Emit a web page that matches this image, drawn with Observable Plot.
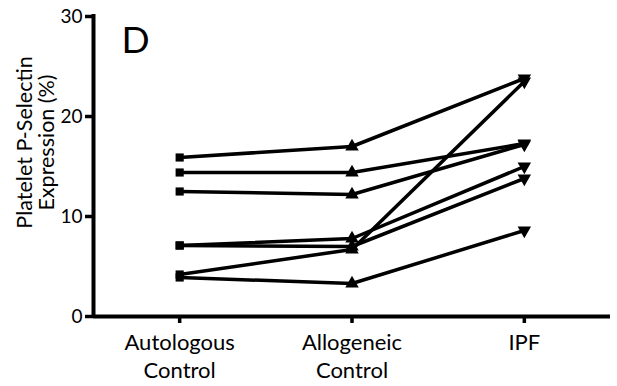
<!DOCTYPE html>
<html>
<head>
<meta charset="utf-8">
<script src="https://cdn.jsdelivr.net/npm/d3@7"></script>
<script src="https://cdn.jsdelivr.net/npm/@observablehq/plot@0.6"></script>
<style>
  html, body { margin: 0; padding: 0; background: #fff; }
  #chart svg { display: block; }
</style>
</head>
<body>
<div id="chart"></div>
<script>
// Data
const groups = ["Autologous\nControl", "Allogeneic\nControl", "IPF"];
const autologous = [15.9, 14.4, 12.5, 7.1, 7.1, 4.2, 3.9];
const allogeneic = [17.0, 14.4, 12.2, 7.8, 7.0, 6.7, 3.3];
const ipf        = [23.8, 17.3, 17.2, 15.0, 13.8, 23.5, 8.6];
const yTicks = [0, 10, 20, 30];
const panelLetter = "D";
const yLabel = "Platelet P-Selectin\nExpression (%)";

const series = [autologous, allogeneic, ipf];
const rows = [];
autologous.forEach((_, s) => {
  series.forEach((vals, g) => rows.push({subject: s, g, value: vals[s]}));
});

const downTriangle = {
  draw(context, size) {
    const y = -Math.sqrt(size / (3 * Math.sqrt(3)));
    context.moveTo(0, -y * 2);
    context.lineTo(-Math.sqrt(3) * y, y);
    context.lineTo(Math.sqrt(3) * y, y);
    context.closePath();
  }
};
const symbols = [d3.symbolSquare, d3.symbolTriangle, downTriangle];

const chart = Plot.plot({
  width: 617,
  height: 386,
  marginLeft: 93,
  marginRight: 7,
  marginTop: 16,
  marginBottom: 70,
  style: {fontFamily: "Lato, 'Open Sans', sans-serif", background: "#fff", color: "#000"},
  x: {domain: [-0.5, 2.5], axis: null},
  y: {domain: [0, 30], axis: null},
  marks: [
    Plot.axisY({ticks: yTicks, tickSize: 8, tickPadding: 3, fontSize: 19, label: null, strokeWidth: 3.5}),
    Plot.axisX({ticks: [0, 1, 2], tickFormat: i => groups[i], tickSize: 7, tickPadding: 6, fontSize: 22, lineHeight: 1.28, label: null, strokeWidth: 3.5}),
    Plot.ruleY([0], {stroke: "#000", strokeWidth: 4}),
    Plot.ruleX([-0.5], {y1: -0.2, y2: 30.2, stroke: "#000", strokeWidth: 4}),
    Plot.line(rows, {x: "g", y: "value", z: "subject", stroke: "#000", strokeWidth: 3.5}),
    ...symbols.map((sym, g) =>
      Plot.dot(rows.filter(d => d.g === g), {x: "g", y: "value", symbol: () => sym, r: g === 0 ? 4.6 : 5, fill: "#000", stroke: "none"})
    ),
    Plot.text([panelLetter], {frameAnchor: "top-left", dx: 28, dy: 10, fontSize: 37, textAnchor: "start", lineAnchor: "top", fill: "#000"}),
    Plot.text([yLabel], {frameAnchor: "left", dx: -58, dy: -24, rotate: -90, fontSize: 21.5, lineHeight: 1.03, lineAnchor: "middle", textAnchor: "middle", fill: "#000"})
  ]
});
document.getElementById("chart").appendChild(chart);
</script>
</body>
</html>
